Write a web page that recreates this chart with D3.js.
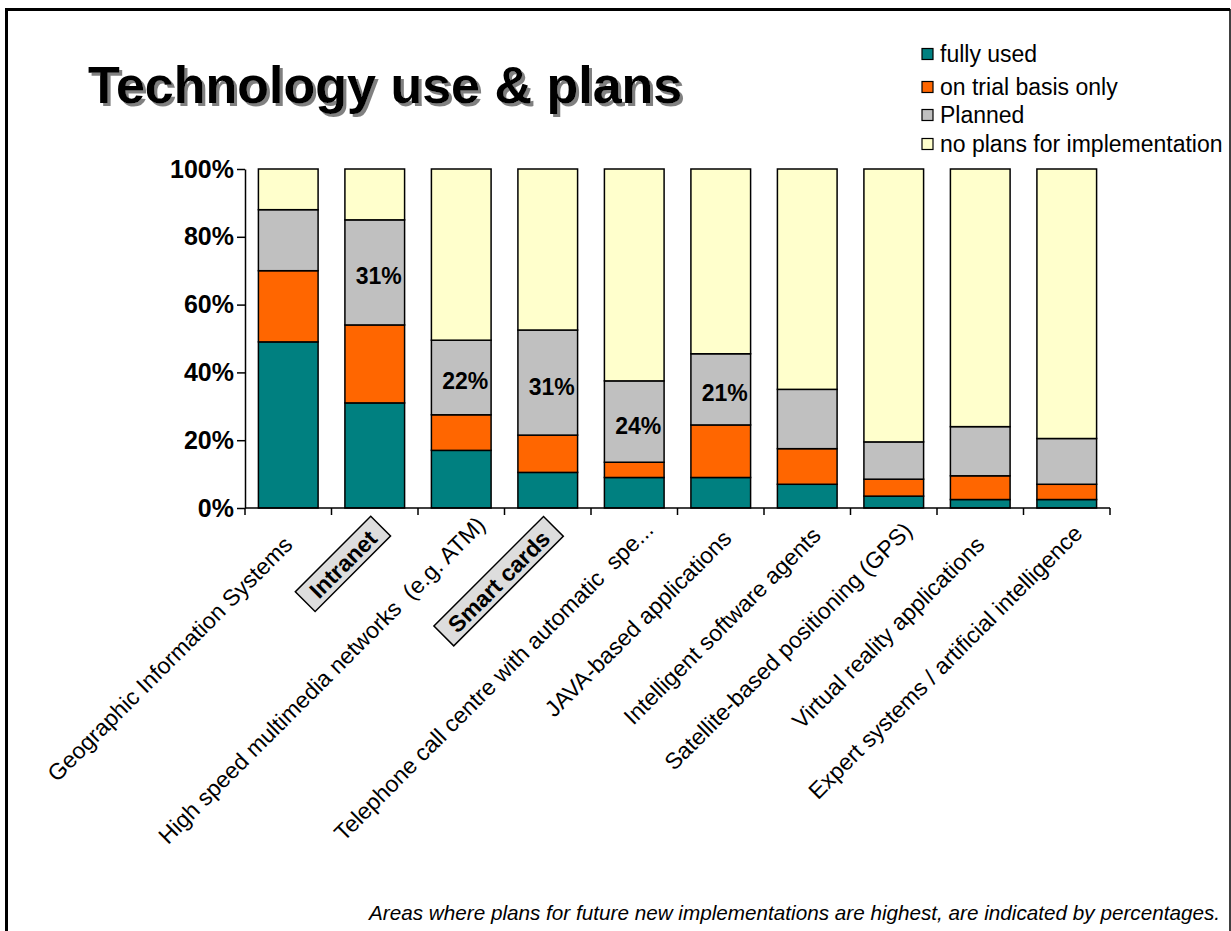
<!DOCTYPE html>
<meta charset="utf-8">
<style>
body { margin: 0; background: #fff; }
svg { display: block; font-family: Arial, "Liberation Sans", sans-serif; }
.axis path, .axis line { stroke: #000; stroke-width: 1.5px; }
.axis text { font-size: 25px; font-weight: bold; fill: #000; }
.seg { stroke: #000; stroke-width: 1.5px; }
.pct { font-size: 23px; font-weight: bold; text-anchor: middle; }
.cat { font-size: 23px; white-space: pre; }
.legend text { font-size: 23px; }
</style>
<svg width="1231" height="931"></svg>
<script src="https://d3js.org/d3.v7.min.js"></script>
<script>
// chart values (percent of respondents)
var categories = [
  "Geographic Information Systems",
  "Intranet",
  "High speed multimedia networks  (e.g. ATM)",
  "Smart cards",
  "Telephone call centre with automatic  spe...",
  "JAVA-based applications",
  "Intelligent software agents",
  "Satellite-based positioning (GPS)",
  "Virtual reality applications",
  "Expert systems / artificial intelligence"
];
var fullyUsed = [49, 31, 17, 10.5, 9, 9, 7, 3.5, 2.5, 2.5];
var trialOnly = [21, 23, 10.5, 11, 4.5, 15.5, 10.5, 5, 7, 4.5];
var planned   = [18, 31, 22, 31, 24, 21, 17.5, 11, 14.5, 13.5];
var noPlans   = [12, 15, 50.5, 47.5, 62.5, 54.5, 65, 80.5, 76, 79.5];
var seriesNames = ["fully used", "on trial basis only", "Planned", "no plans for implementation"];
var seriesColors = ["#008080", "#ff6600", "#c0c0c0", "#ffffcc"];
var annotated = [false, true, true, true, true, true, false, false, false, false];
var boxed = ["Intranet", "Smart cards"];
var yTicks = [0, 20, 40, 60, 80, 100];

var titleText = "Technology use & plans";
var footText = "Areas where plans for future new implementations are highest, are indicated by percentages.";

// layout: how far each rotated label is slid along its own direction
var labelShift = [4, 0, 32, 0, 25, 13, 17, 24, 4, 20];

var svg = d3.select("svg");

var defs = svg.append("defs");
var f = defs.append("filter").attr("id", "shadow").attr("x", "-5%").attr("y", "-20%")
    .attr("width", "110%").attr("height", "140%");
f.append("feOffset").attr("in", "SourceAlpha").attr("dx", 3).attr("dy", 3).attr("result", "off");
f.append("feFlood").attr("flood-color", "#808080");
f.append("feComposite").attr("in2", "off").attr("operator", "in").attr("result", "sh");
var fm = f.append("feMerge");
fm.append("feMergeNode").attr("in", "sh");
fm.append("feMergeNode").attr("in", "SourceGraphic");

// slide frame
svg.append("path").attr("d", "M6.5,931V9.5H1230")
    .attr("fill", "none").attr("stroke", "#000").attr("stroke-width", 3);
svg.append("line").attr("x1", 1230).attr("x2", 1230).attr("y1", 9).attr("y2", 931)
    .attr("stroke", "#000").attr("stroke-width", 1.5);

// title with drop shadow
svg.append("text")
    .attr("x", 88).attr("y", 103)
    .attr("font-size", 52).attr("font-weight", "bold")
    .attr("filter", "url(#shadow)")
    .text(titleText);

var rows = categories.map(function(c, i) {
  return { cat: c, s0: fullyUsed[i], s1: trialOnly[i], s2: planned[i], s3: noPlans[i], i: i };
});
var stack = d3.stack().keys(["s0", "s1", "s2", "s3"])(rows);

var x = d3.scaleBand().domain(categories).range([245, 1110]).paddingInner(0.31).paddingOuter(0.155);
var y = d3.scaleLinear().domain([0, 100]).range([508, 169]);

// bars
svg.append("g").selectAll("g")
  .data(stack)
  .join("g")
    .attr("fill", function(d, i) { return seriesColors[i]; })
  .selectAll("rect")
  .data(function(d) { return d; })
  .join("rect")
    .attr("class", "seg")
    .attr("x", function(d) { return x(d.data.cat); })
    .attr("width", x.bandwidth())
    .attr("y", function(d) { return y(d[1]); })
    .attr("height", function(d) { return y(d[0]) - y(d[1]); });

// percentages on the planned segment
svg.append("g").selectAll("text")
  .data(stack[2].filter(function(d) { return annotated[d.data.i]; }))
  .join("text")
    .attr("class", "pct")
    .attr("x", function(d) { return x(d.data.cat) + x.bandwidth() / 2 + 4; })
    .attr("y", function(d) { return (y(d[0]) + y(d[1])) / 2 + 12; })
    .text(function(d) { return d.data.s2 + "%"; });

// y axis
svg.append("g")
    .attr("class", "axis")
    .attr("transform", "translate(245,0)")
    .call(d3.axisLeft(y).tickValues(yTicks).tickSize(8).tickSizeOuter(0).tickPadding(3)
      .tickFormat(function(d) { return d + "%"; }));

// x axis: baseline with ticks between categories
var x0 = x.range()[0], x1 = x.range()[1];
var xa = svg.append("g").attr("class", "axis");
xa.append("line").attr("x1", x0).attr("x2", x1).attr("y1", y(0)).attr("y2", y(0));
xa.selectAll(".tk")
  .data(d3.range(categories.length + 1))
  .join("line")
    .attr("class", "tk")
    .attr("x1", function(i) { return x0 + i * (x1 - x0) / categories.length; })
    .attr("x2", function(i) { return x0 + i * (x1 - x0) / categories.length; })
    .attr("y1", y(0)).attr("y2", y(0) + 7);

// category labels, rotated 45 degrees
var lab = svg.append("g").selectAll("g")
  .data(categories)
  .join("g")
    .attr("transform", function(d) {
      return "translate(" + (x(d) + x.bandwidth() / 2) + "," + y(0) + ") rotate(-45)";
    });

lab.each(function(d, i) {
  var g = d3.select(this);
  if (boxed.indexOf(d) >= 0) {
    var t = g.append("text").attr("class", "cat")
        .attr("font-weight", "bold")
        .attr("text-anchor", "end")
        .attr("x", -20).attr("y", 25.5)
        .text(d);
    var b = t.node().getBBox();
    g.insert("rect", "text")
        .attr("x", b.x - 11).attr("y", 3)
        .attr("width", b.width + 22).attr("height", 28)
        .attr("fill", "#dddddd").attr("stroke", "#000").attr("stroke-width", 1.5);
  } else {
    g.append("text").attr("class", "cat")
        .attr("text-anchor", "end")
        .attr("x", -27 + labelShift[i]).attr("y", 31)
        .text(d);
  }
});

// legend
var lg = svg.append("g").attr("class", "legend");
var legY = [54, 87, 115, 144];
seriesNames.forEach(function(n, i) {
  lg.append("rect")
      .attr("x", 922).attr("y", legY[i] - 5.5)
      .attr("width", 11).attr("height", 11)
      .attr("fill", seriesColors[i]).attr("stroke", "#000").attr("stroke-width", 1.2);
  lg.append("text").attr("x", 940).attr("y", legY[i] + 8).text(n);
});

// footnote
svg.append("text")
    .attr("x", 1220).attr("y", 920)
    .attr("text-anchor", "end")
    .attr("font-size", 20.7).attr("font-style", "italic")
    .text(footText);
</script>
